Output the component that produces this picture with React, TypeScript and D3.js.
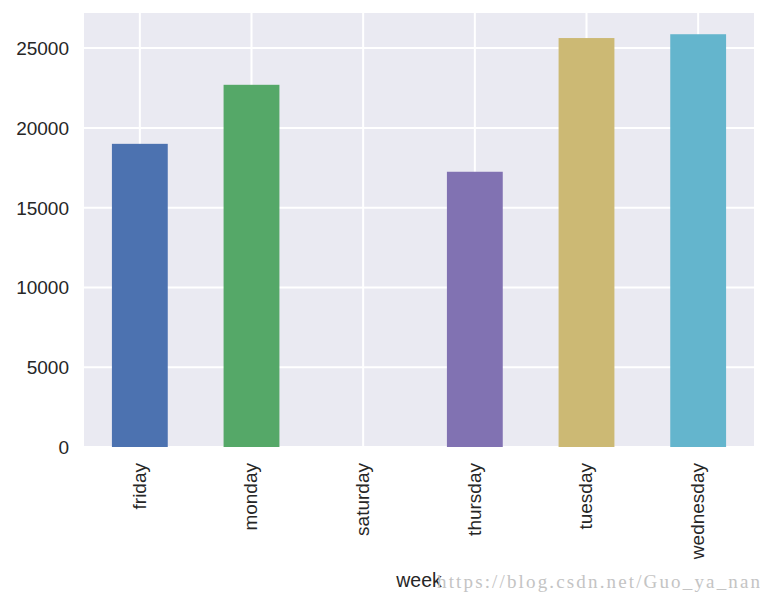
import { useEffect, useRef } from 'react'
import * as d3 from 'd3'

const days = ['friday', 'monday', 'saturday', 'thursday', 'tuesday', 'wednesday']
const counts = [19000, 22700, 0, 17250, 25630, 25870]
const colors = ['#4C72B0', '#55A868', '#C44E52', '#8172B2', '#CCB974', '#64B5CD']
const yTicks = [0, 5000, 10000, 15000, 20000, 25000]

export default () => {
  const svgRef = useRef<SVGSVGElement>(null)

  useEffect(() => {
    const margin = { top: 13, right: 14, bottom: 159, left: 84 },
      width = 768 - margin.left - margin.right,
      height = 606 - margin.top - margin.bottom

    const svg = d3.select(svgRef.current)
    svg.selectAll('*').remove()

    const g = svg.append('g').attr('transform', `translate(${margin.left},${margin.top})`)

    const x = d3.scaleBand().domain(days).range([0, width]).paddingInner(0.5).paddingOuter(0.25)
    const y = d3.scaleLinear().domain([0, 27200]).range([height, 0])

    // background
    g.append('rect').attr('width', width).attr('height', height).attr('fill', '#EAEAF2')

    // grid
    g.selectAll('line.hgrid')
      .data(yTicks)
      .join('line')
      .attr('class', 'hgrid')
      .attr('x1', 0)
      .attr('x2', width)
      .attr('y1', (d) => y(d))
      .attr('y2', (d) => y(d))
      .attr('stroke', '#fff')
      .attr('stroke-width', 2)

    g.selectAll('line.vgrid')
      .data(days)
      .join('line')
      .attr('class', 'vgrid')
      .attr('x1', (d) => x(d)! + x.bandwidth() / 2)
      .attr('x2', (d) => x(d)! + x.bandwidth() / 2)
      .attr('y1', 0)
      .attr('y2', height)
      .attr('stroke', '#fff')
      .attr('stroke-width', 2)

    // bars
    g.selectAll('rect.bar')
      .data(days)
      .join('rect')
      .attr('class', 'bar')
      .attr('x', (d) => x(d)!)
      .attr('width', x.bandwidth())
      .attr('y', (d, i) => y(counts[i]))
      .attr('height', (d, i) => height - y(counts[i]))
      .attr('fill', (d, i) => colors[i])

    const font = "'Liberation Sans', Arial, sans-serif"

    // y tick labels
    g.selectAll('text.ytick')
      .data(yTicks)
      .join('text')
      .attr('class', 'ytick')
      .attr('x', -15)
      .attr('y', (d) => y(d))
      .attr('dy', '0.36em')
      .attr('text-anchor', 'end')
      .attr('font-family', font)
      .attr('font-size', 19)
      .attr('fill', '#262626')
      .text((d) => String(d))

    // x tick labels
    g.selectAll('text.xtick')
      .data(days)
      .join('text')
      .attr('class', 'xtick')
      .attr(
        'transform',
        (d) => `translate(${x(d)! + x.bandwidth() / 2 - 1},${height + 16}) rotate(-90)`
      )
      .attr('dy', '0.36em')
      .attr('text-anchor', 'end')
      .attr('font-family', font)
      .attr('font-size', 19)
      .attr('fill', '#262626')
      .text((d) => d)

    // axis label
    g.append('text')
      .attr('x', width / 2)
      .attr('y', 574)
      .attr('text-anchor', 'middle')
      .attr('font-family', font)
      .attr('font-size', 19.5)
      .attr('fill', '#262626')
      .text('week')

    // watermark
    svg
      .append('text')
      .attr('x', 437)
      .attr('y', 588)
      .attr('font-family', "'Liberation Serif', 'DejaVu Serif', serif")
      .attr('font-size', 19)
      .attr('textLength', 323)
      .attr('lengthAdjust', 'spacing')
      .attr('fill', '#c4c4c4')
      .text('https://blog.csdn.net/Guo_ya_nan')
  }, [])

  return <svg ref={svgRef} width={768} height={606} style={{ display: 'block', margin: -8 }} />
}
